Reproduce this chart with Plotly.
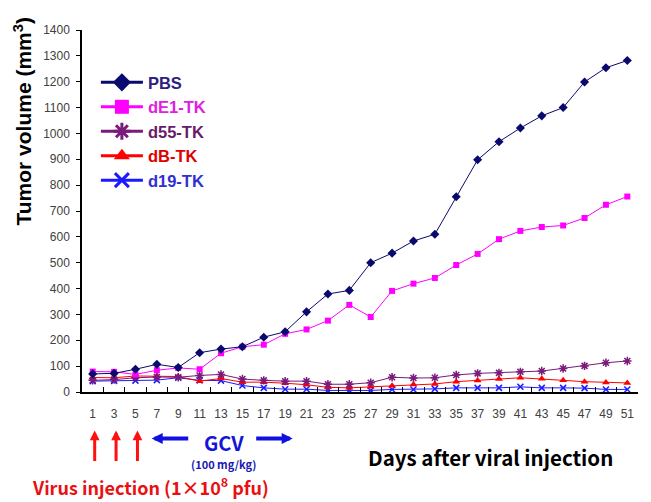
import plotly.graph_objects as go

# ---- data ----
days = [str(d) for d in range(1, 52, 2)]
pbs = [70, 72, 88, 107, 95, 152, 166, 175, 212, 233, 310, 379, 393, 500, 537, 584,
       610, 755, 898, 968, 1021, 1068, 1100, 1199, 1254, 1282]
de1_tk = [79, 78, 68, 84, 93, 88, 150, 175, 183, 225, 242, 276, 337, 290, 391, 419,
          441, 491, 534, 591, 623, 638, 644, 673, 724, 756]
d55_tk = [45, 48, 55, 58, 57, 64, 68, 50, 45, 42, 42, 30, 30, 36, 57, 54,
          55, 66, 72, 74, 78, 81, 91, 101, 113, 120]
db_tk = [56, 55, 62, 62, 60, 42, 52, 38, 38, 34, 28, 18, 16, 20, 24, 29,
         31, 40, 44, 50, 55, 51, 45, 40, 37, 35]
d19_tk = [42, 43, 44, 46, 55, 45, 44, 25, 16, 11, 11, 6, 6, 6, 10, 10,
          12, 16, 16, 16, 20, 16, 16, 15, 10, 10]
y_ticks = list(range(0, 1401, 100))
injection_days = ["1", "3", "5"]

series = [
    ("d19-TK", d19_tk, "#1a1aff", "x-thin-open", 6, "#3030d0"),
    ("dB-TK", db_tk, "#ff0000", "triangle-up", 7, "#e00000"),
    ("d55-TK", d55_tk, "#7a1a7a", "asterisk-open", 7, "#6a1a6a"),
    ("dE1-TK", de1_tk, "#ff00ff", "square", 6, "#e020e0"),
    ("PBS", pbs, "#0a0a6e", "diamond", 7, "#2e2080"),
]

fig = go.Figure()
for name, vals, col, sym, sz, tcol in series:
    mk = dict(symbol=sym, size=sz, color=col)
    if sym.endswith("open"):
        mk["line"] = dict(color=col, width=1.5)
    fig.add_trace(go.Scatter(x=days, y=vals, mode="lines+markers", name=name,
                             line=dict(color=col, width=1), marker=mk,
                             showlegend=False))

# legend-only entries (thicker, larger symbols as in the reference legend)
for name, vals, col, sym, sz, tcol in reversed(series):
    mk = dict(symbol=sym, size=14, color=col)
    if sym.endswith("open"):
        mk["line"] = dict(color=col, width=3)
    fig.add_trace(go.Scatter(x=[days[0]], y=[None], mode="lines+markers",
                             name=f"<b><span style='color:{tcol}'>{name}</span></b>",
                             line=dict(color=col, width=3), marker=mk,
                             showlegend=True))

fig.update_layout(
    width=651, height=502,
    margin=dict(l=74, r=21, t=22, b=118),
    paper_bgcolor="white", plot_bgcolor="white",
    font=dict(family="Arial", size=12, color="#404040"),
    showlegend=True,
    legend=dict(x=0.025, y=0.903, xanchor="left", yanchor="top",
                bgcolor="rgba(0,0,0,0)", itemwidth=42,
                font=dict(family="Arial", size=16.5, color="#000")),
    xaxis=dict(type="category", categoryarray=days, categoryorder="array",
               range=[-0.5, len(days) - 0.5],
               showgrid=False, showline=True, linecolor="black",
               linewidth=1.5, ticks="inside", ticklen=5, tickcolor="black",
               tickson="boundaries", ticklabelstandoff=10, tickangle=0,
               automargin=False,
               tickfont=dict(family="Arial", size=12, color="#404040")),
    yaxis=dict(range=[0, 1400], tickvals=y_ticks, showgrid=False, showline=True,
               linecolor="black", linewidth=1.5, ticks="outside", ticklen=4,
               tickcolor="black", zeroline=False, ticklabelstandoff=4,
               automargin=False,
               tickfont=dict(family="Arial", size=12, color="#404040")),
)

PW, PH, X0, Y0 = 556, 362, 82, 392


def px(xp):
    return (xp - X0) / PW


def py(yp):
    return (Y0 - yp) / PH


# y-axis title
fig.add_annotation(text="<b>Tumor volume (mm<sup>3</sup>)</b>", xref="paper", yref="paper",
                   x=px(22), y=py(121.5), textangle=-90, showarrow=False,
                   xanchor="center", yanchor="middle",
                   font=dict(family="Arial", size=21, color="black"))
# x-axis title
fig.add_annotation(text="<b>Days after viral injection</b>", xref="paper", yref="paper",
                   x=px(490), y=py(456.5), showarrow=False,
                   xanchor="center", yanchor="middle",
                   font=dict(family="Noto Sans CJK KR", size=20.5, color="black"))
# virus injection arrows (category index positions)
for d in injection_days:
    fig.add_annotation(text="", x=days.index(d), y=py(430.5), xref="x", yref="paper",
                       xshift=2, showarrow=True, ax=0, ay=32, arrowhead=2,
                       arrowsize=0.65, arrowwidth=3, arrowcolor="#ff1010")
fig.add_annotation(text="<b>Virus injection (1×10<sup>8</sup> pfu)</b>", xref="paper", yref="paper",
                   x=px(150.8), y=py(486), showarrow=False,
                   xanchor="center", yanchor="middle",
                   font=dict(family="Noto Sans CJK KR", size=18, color="#e81010"))
# GCV arrows and label
fig.add_annotation(text="", xref="paper", yref="paper",
                   x=px(151.7), y=py(438.5),
                   showarrow=True, ax=38, ay=0, arrowhead=2, arrowsize=0.55,
                   arrowwidth=4, arrowcolor="#1010e0")
fig.add_annotation(text="", xref="paper", yref="paper",
                   x=px(292.7), y=py(438.5),
                   showarrow=True, ax=-38, ay=0, arrowhead=2, arrowsize=0.55,
                   arrowwidth=4, arrowcolor="#1010e0")
fig.add_annotation(text="<b>GCV</b>", xref="paper", yref="paper",
                   x=px(224), y=py(443), showarrow=False,
                   xanchor="center", yanchor="middle",
                   font=dict(family="Noto Sans CJK KR", size=20, color="#1515d5"))
fig.add_annotation(text="<b>(100 mg/kg)</b>", xref="paper", yref="paper",
                   x=px(223), y=py(464), showarrow=False,
                   xanchor="center", yanchor="middle",
                   font=dict(family="Noto Sans CJK KR", size=11, color="#1a1ab0"))

fig.write_html("out.html")
